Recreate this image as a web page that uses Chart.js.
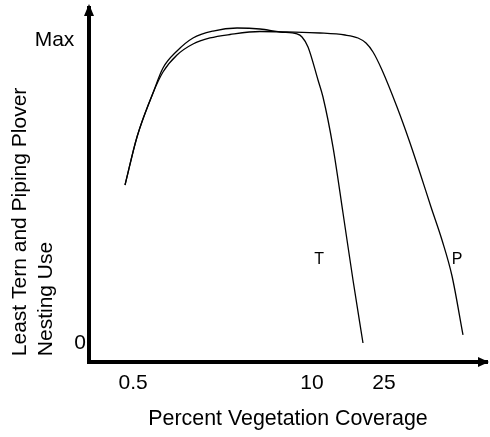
<!DOCTYPE html>
<html>
<head>
<meta charset="utf-8">
<script src="https://cdn.jsdelivr.net/npm/chart.js@4"></script>
<style>
  html, body { margin: 0; padding: 0; background: #fff; }
  #c { display: block; }
</style>
</head>
<body>
<canvas id="c" width="490" height="437"></canvas>
<script>
// ---- data (arbitrary 0-100 units on both axes) ----
const ternX = [9.05, 12.06, 16.08, 18.59, 22.11, 26.13, 31.16, 37.19, 42.96, 47.99, 52.26, 53.52, 55.03, 57.54, 58.79, 61.31, 63.82, 66.33, 68.84];
const ternY = [50.00, 63.56, 75.99, 83.05, 87.85, 91.53, 93.50, 94.35, 94.07, 93.22, 92.66, 91.81, 88.98, 79.66, 74.86, 60.73, 42.09, 23.16, 5.37];
const ploverX = [9.05, 12.06, 16.08, 18.59, 22.11, 26.13, 30.40, 35.43, 42.96, 49.75, 58.04, 64.32, 67.59, 69.60, 71.36, 73.62, 77.39, 80.40, 83.17, 85.93, 88.69, 91.21, 93.97];
const ploverY = [50.00, 63.56, 75.99, 81.92, 86.72, 89.83, 91.53, 92.51, 93.36, 93.22, 92.94, 92.37, 91.53, 90.11, 87.57, 82.49, 72.03, 62.71, 53.39, 43.79, 34.46, 24.29, 7.63];

const xTickValues = [11.1, 56.0, 74.1];
const xTickLabels = ['0.5', '10', '25'];
const yTickValues = [5.4, 91.0];
const yTickLabels = ['0', 'Max  '];

const curveLabels = ['T', 'P'];
const curveLabelX = [57.8, 92.5];
const curveLabelY = [28.9, 28.9];

const FONT = '"Liberation Sans", Arial, Helvetica, sans-serif';

function pts(xs, ys) { return xs.map((x, i) => ({ x: x, y: ys[i] })); }

const arrowPlugin = {
  id: 'arrows',
  afterDraw(chart) {
    const ctx = chart.ctx;
    const a = chart.chartArea;
    ctx.save();
    ctx.fillStyle = '#000';
    ctx.beginPath();
    ctx.moveTo(a.left, a.top - 4);
    ctx.lineTo(a.left - 5, a.top + 8);
    ctx.lineTo(a.left + 5, a.top + 8);
    ctx.closePath();
    ctx.fill();
    ctx.beginPath();
    ctx.moveTo(a.right + 2, a.bottom);
    ctx.lineTo(a.right - 9, a.bottom - 5);
    ctx.lineTo(a.right - 9, a.bottom + 5);
    ctx.closePath();
    ctx.fill();
    ctx.restore();
  }
};

const labelPlugin = {
  id: 'curveLabels',
  afterDatasetsDraw(chart) {
    const ctx = chart.ctx;
    const xs = chart.scales.x, ys = chart.scales.y;
    ctx.save();
    ctx.fillStyle = '#000';
    ctx.font = '16px ' + FONT;
    ctx.textAlign = 'center';
    ctx.textBaseline = 'middle';
    curveLabels.forEach((t, i) => {
      ctx.fillText(t, xs.getPixelForValue(curveLabelX[i]), ys.getPixelForValue(curveLabelY[i]));
    });
    ctx.restore();
  }
};

new Chart(document.getElementById('c'), {
  type: 'line',
  data: {
    datasets: [
      { label: 'T', data: pts(ternX, ternY), borderColor: '#000', borderWidth: 1.3, pointRadius: 0, fill: false, cubicInterpolationMode: 'monotone' },
      { label: 'P', data: pts(ploverX, ploverY), borderColor: '#000', borderWidth: 1.3, pointRadius: 0, fill: false, cubicInterpolationMode: 'monotone' }
    ]
  },
  options: {
    responsive: false,
    animation: false,
    devicePixelRatio: 1,
    layout: { padding: { top: 8, right: 3, left: 0, bottom: 0 } },
    plugins: { legend: { display: false }, tooltip: { enabled: false } },
    scales: {
      x: {
        type: 'linear',
        min: 0, max: 100,
        grid: { display: false, drawTicks: false },
        border: { display: true, color: '#000', width: 4 },
        afterBuildTicks: s => { s.ticks = xTickValues.map(v => ({ value: v })); },
        afterFit: s => { s.height = 75; s.paddingLeft = 0; s.paddingRight = 0; },
        ticks: {
          autoSkip: false, maxRotation: 0, padding: 9, color: '#000',
          font: { family: FONT, size: 21, lineHeight: 1.2 },
          callback: (v, i) => xTickLabels[i]
        },
        title: {
          display: true, text: 'Percent Vegetation Coverage', color: '#000',
          font: { family: FONT, size: 21.4, lineHeight: 1.2 },
          padding: { top: 0, bottom: 5 }
        }
      },
      y: {
        type: 'linear',
        min: 0, max: 100,
        grid: { display: false, drawTicks: false },
        border: { display: true, color: '#000', width: 4 },
        afterBuildTicks: s => { s.ticks = yTickValues.map(v => ({ value: v })); },
        afterFit: s => { s.width = 89; s.paddingTop = 0; s.paddingBottom = 0; },
        ticks: {
          autoSkip: false, padding: 3, color: '#000',
          font: { family: FONT, size: 21, lineHeight: 1.2 },
          callback: (v, i) => yTickLabels[i]
        },
        title: {
          display: true, align: 'start',
          text: [' Least Tern and Piping Plover', ' Nesting Use'], color: '#000',
          font: { family: FONT, size: 21, lineHeight: 1.2 },
          padding: { top: 8, bottom: 0 }
        }
      }
    }
  },
  plugins: [arrowPlugin, labelPlugin]
});
</script>
</body>
</html>
